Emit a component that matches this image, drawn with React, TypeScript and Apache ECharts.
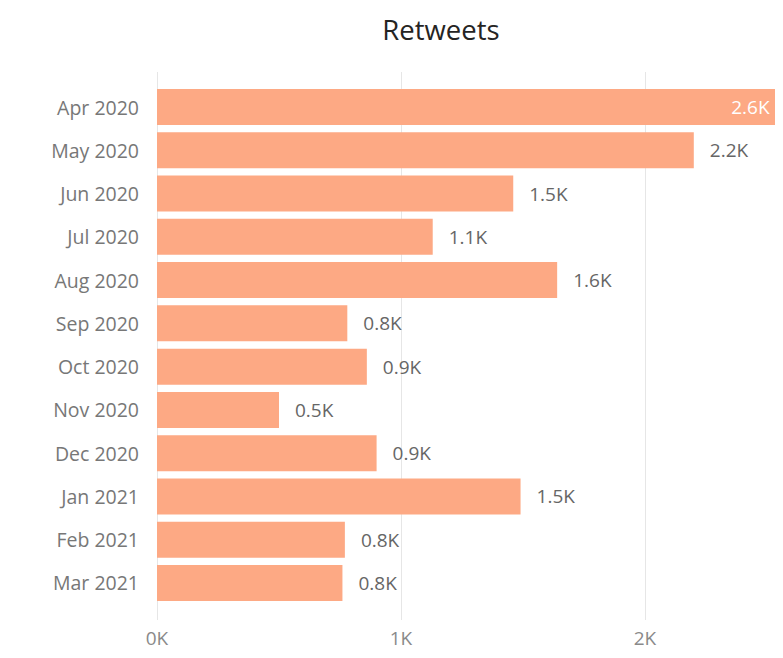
import React, { useEffect, useRef } from "react";
import * as echarts from "echarts";

const months = [
  "Apr 2020", "May 2020", "Jun 2020", "Jul 2020", "Aug 2020", "Sep 2020",
  "Oct 2020", "Nov 2020", "Dec 2020", "Jan 2021", "Feb 2021", "Mar 2021",
];
// Retweets in thousands
const retweets = [2.58, 2.2, 1.46, 1.13, 1.64, 0.78, 0.86, 0.5, 0.9, 1.49, 0.77, 0.76];
const xTicks = [0, 1, 2, 3];

const FONT = "'Open Sans', 'Noto Sans', sans-serif";
const BAR = "#FDA984";

export default function App() {
  const ref = useRef<HTMLDivElement>(null);
  useEffect(() => {
    if (!ref.current) return;
    const chart = echarts.init(ref.current, undefined, { renderer: "svg" });
    const xMin = xTicks[0];
    const xMax = xTicks[xTicks.length - 1];
    chart.setOption({
      animation: false,
      textStyle: { fontFamily: FONT },
      title: {
        text: "Retweets",
        left: 428,
        top: 2,
        textAlign: "center",
        textStyle: { fontFamily: FONT, fontSize: 27.5, fontWeight: "normal", color: "#252423" },
      },
      grid: [
        { left: 149, top: 64, width: 732, height: 548, outerBoundsMode: "none", containLabel: false },
        { left: 149, top: 77.4, width: 732, height: 519.2, outerBoundsMode: "none", containLabel: false },
      ],
      xAxis: [
        {
          type: "value",
          gridIndex: 0,
          min: xMin,
          max: xMax,
          interval: 1,
          axisLine: { show: false },
          axisTick: { show: false },
          splitLine: { show: true, lineStyle: { color: "#e6e6e6", width: 1 } },
          axisLabel: {
            margin: 8,
            fontSize: 19,
            color: "#8a8a8a",
            fontFamily: FONT,
            showMaxLabel: false,
            formatter: (v: number) => `${v}K`,
          },
        },
        {
          type: "value",
          gridIndex: 1,
          min: xMin,
          max: xMax,
          show: false,
        },
      ],
      yAxis: [
        { type: "value", gridIndex: 0, show: false },
        {
          type: "category",
          gridIndex: 1,
          inverse: true,
          data: months,
          axisLine: { show: false },
          axisTick: { show: false },
          splitLine: { show: false },
          axisLabel: { margin: 18, fontSize: 19.5, color: "#777777", fontFamily: FONT },
        },
      ],
      series: [
        {
          type: "bar",
          xAxisIndex: 1,
          yAxisIndex: 1,
          barWidth: 36,
          itemStyle: { color: BAR },
          data: retweets.map((v, i) =>
            i === 0
              ? {
                  value: v,
                  label: { position: "insideRight", distance: 17, color: "#ffffff" },
                }
              : v
          ),
          label: {
            show: true,
            position: "right",
            distance: 16,
            fontSize: 19,
            fontFamily: FONT,
            color: "#666666",
            formatter: (p: any) => `${Number(p.value).toFixed(1)}K`,
          },
        },
      ],
    });
    return () => chart.dispose();
  }, []);
  return <div ref={ref} style={{ width: 775, height: 650 }} />;
}
